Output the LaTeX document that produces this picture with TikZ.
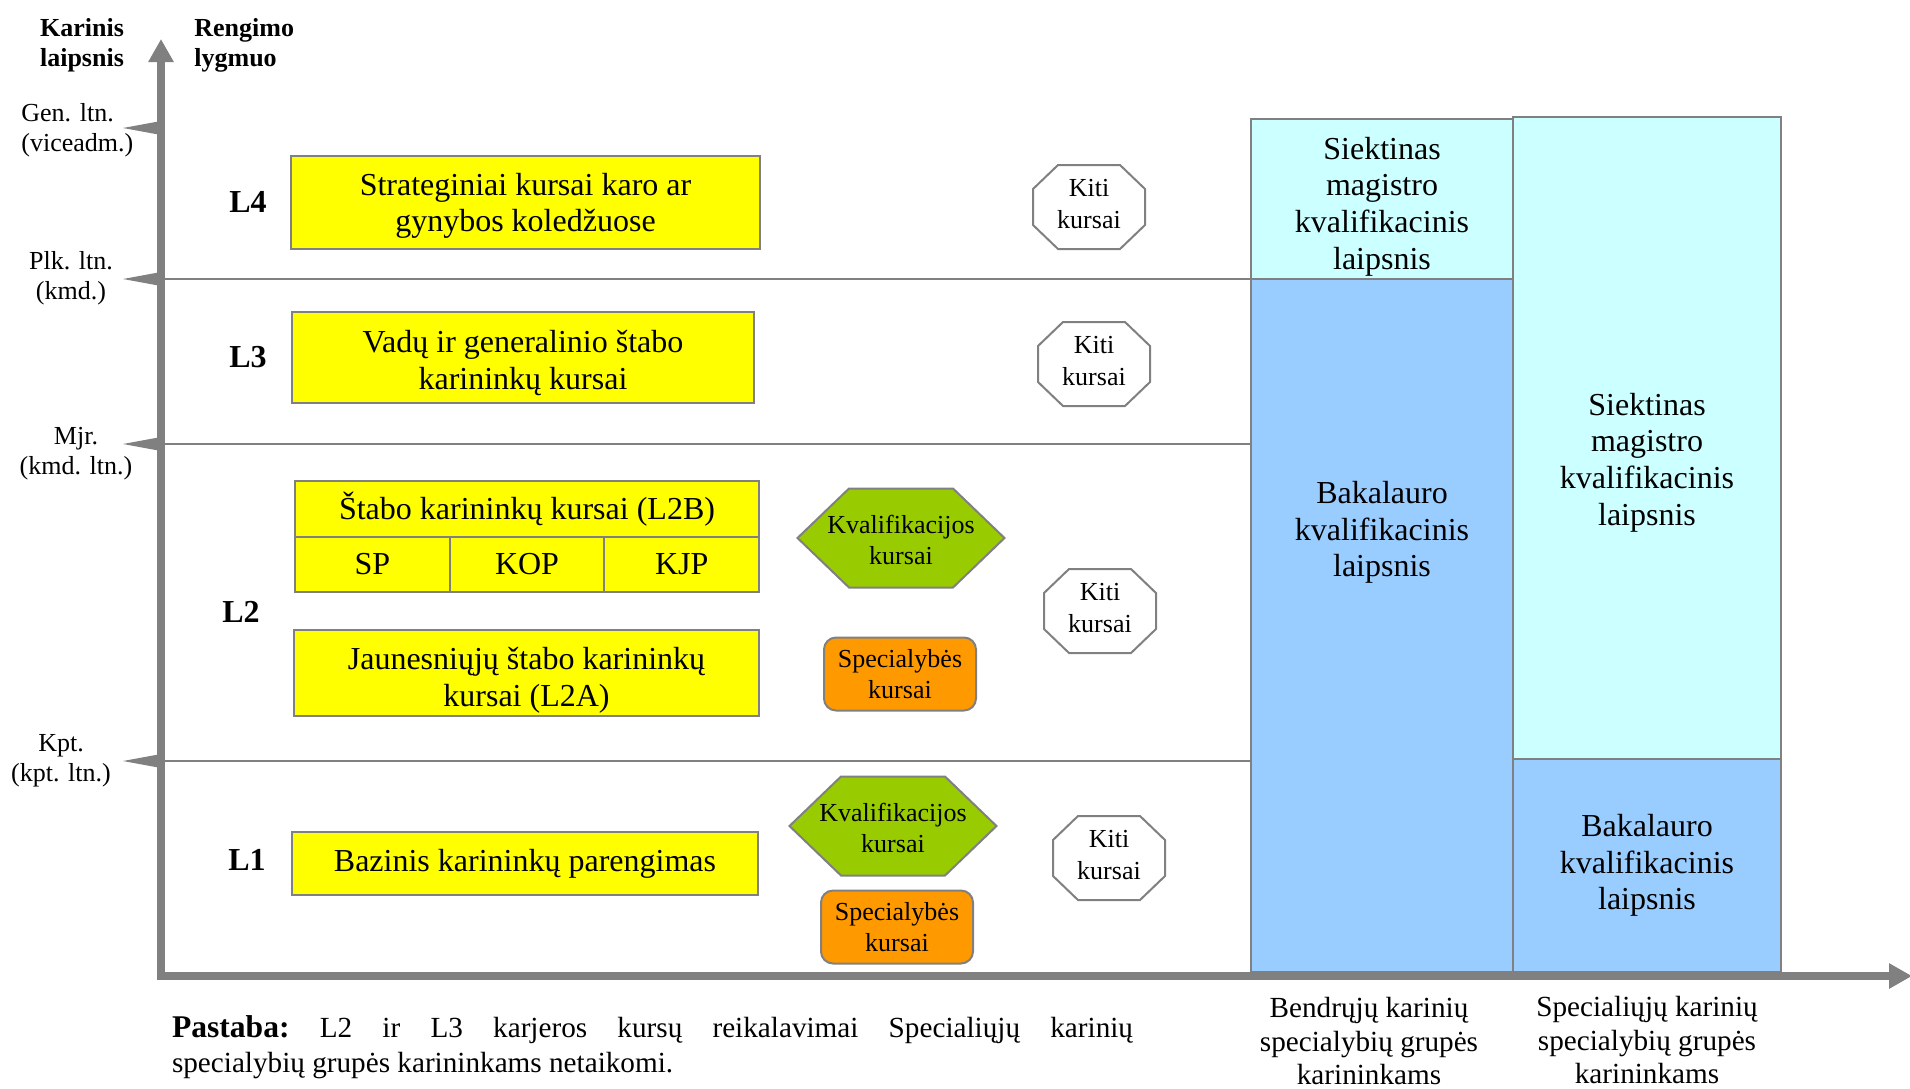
\documentclass[tikz,border=0pt]{standalone}
\usepackage{fontspec}
\setmainfont{Liberation Serif}
\usepackage{tikz}
\usetikzlibrary{arrows.meta}

\definecolor{lvlyellow}{HTML}{FFFF00}
\definecolor{degcyan}{HTML}{CCFFFF}
\definecolor{degblue}{HTML}{99CCFF}
\definecolor{kvgreen}{HTML}{99CC00}
\definecolor{specorange}{HTML}{FF9900}
\definecolor{edgegray}{HTML}{808080}

\begin{document}
\begin{tikzpicture}[x=0.5pt, y=-0.5pt,
    bigtxt/.style={font=\fontsize{16}{18.3}\selectfont},
    smalltxt/.style={font=\fontsize{13}{15.8}\selectfont, align=center},
    ybox/.style={draw=edgegray, line width=1pt, fill=lvlyellow, inner sep=0pt, align=center, bigtxt},
    twoline/.style={text depth=0pt},
    spec/.style={draw=edgegray, line width=1pt, fill=specorange, rounded corners=6pt, minimum width=76pt, minimum height=36.5pt, inner sep=0pt, smalltxt},
    lvl/.style={font=\fontsize{16}{18}\selectfont\bfseries},
    rank/.style={align=center, inner sep=0pt, font=\fontsize{13}{15}\selectfont},
    degbox/.style={draw=edgegray, line width=1pt},
    degtext/.style={align=center, inner sep=0pt, text depth=0pt, bigtxt},
    foot/.style={align=center, inner sep=0pt, font=\fontsize{14.6}{16.8}\selectfont},
    axis/.style={draw=edgegray, line width=4pt, line cap=rect, -{Triangle[length=11.5pt,width=12pt]}},
    grid line/.style={draw=edgegray, line width=1pt},
    hexa/.pic={\filldraw[draw=edgegray, line width=1pt, fill=kvgreen] (-103.5,0) -- (-52,-49.5) -- (52,-49.5) -- (103.5,0) -- (52,49.5) -- (-52,49.5) -- cycle;},
    octa/.pic={\filldraw[draw=edgegray, line width=1pt, fill=white] (-56,-18) -- (-31,-42) -- (31,-42) -- (56,-18) -- (56,18) -- (31,42) -- (-31,42) -- (-56,18) -- cycle;}
]
    \useasboundingbox (0,0) rectangle (1910,1088);

    % levels
    \foreach \y in {279,444,761}
        \draw[grid line] (161,\y) -- (1251,\y);

    % degree columns
    \filldraw[degbox, fill=degcyan] (1251,119) rectangle (1513,279);
    \filldraw[degbox, fill=degblue] (1251,279) rectangle (1513,972);
    \filldraw[degbox, fill=degcyan] (1513,117) rectangle (1781,759);
    \filldraw[degbox, fill=degblue] (1513,759) rectangle (1781,972);
    \node[degtext] (magA) at (1382,203) {Siektinas\\magistro\\kvalifikacinis\\laipsnis};
    \node[degtext] (bakA) at (1382,529) {Bakalauro\\kvalifikacinis\\laipsnis};
    \node[degtext] (magB) at (1647,459) {Siektinas\\magistro\\kvalifikacinis\\laipsnis};
    \node[degtext] (bakB) at (1647,862) {Bakalauro\\kvalifikacinis\\laipsnis};

    % axes
    \coordinate (origin) at (161,976);
    \coordinate (ytip) at (161,39);
    \coordinate (xtip) at (1912,976);
    \draw[axis] (origin) -- (ytip);
    \draw[axis] (origin) -- (xtip);
    \foreach \y in {128,279,444,761}
        \fill[edgegray] (123,\y) -- (161,\y-7) -- (161,\y+7) -- cycle;

    \node[rank, font=\fontsize{13}{15}\selectfont\bfseries] (karinis) at (82,45) {Karinis\\laipsnis};
    \node[rank, font=\fontsize{13}{15}\selectfont\bfseries, align=left, anchor=west] (rengimo) at (194,45) {Rengimo\\lygmuo};
    \node[rank, align=left, anchor=west] (gen) at (21,130) {Gen. ltn.\\(viceadm.)};
    \node[rank] (plk) at (71,278) {Plk. ltn.\\(kmd.)};
    \node[rank] (mjr) at (76,454) {Mjr.\\(kmd. ltn.)};
    \node[rank] (kpt) at (61,761) {Kpt.\\(kpt. ltn.)};

    \node[lvl] (l4) at (248,202) {L4};
    \node[lvl] (l3) at (248,357) {L3};
    \node[lvl] (l2) at (241,612) {L2};
    \node[lvl] (l1) at (247,860) {L1};

    % career courses
    \node[ybox, twoline, minimum width=234.5pt, minimum height=46.5pt] (strat) at (525.5,202.5) {Strateginiai kursai karo ar\\gynybos koledžuose};
    \node[ybox, twoline, text height=32pt, minimum width=231pt, minimum height=45.5pt] (vadu) at (523,357.5) {Vadų ir generalinio štabo\\karininkų kursai};
    \node[ybox, minimum width=232pt, minimum height=28pt] (stabo) at (527,509) {Štabo karininkų kursai (L2B)};
    \foreach \t [count=\i] in {SP,KOP,KJP}
        \node[ybox, minimum width=77.33pt, minimum height=27.5pt] (cell\i) at ({295+154.67*(\i-0.5)},564.5) {\t};
    \node[ybox, twoline, text height=33pt, minimum width=232.5pt, minimum height=43pt] (jaun) at (526.5,673) {Jaunesniųjų štabo karininkų\\kursai (L2A)};
    \node[ybox, minimum width=233pt, minimum height=31.5pt] (bazin) at (525,863.5) {Bazinis karininkų parengimas};

    % other courses
    \pic at (901,538) {hexa};
    \node[smalltxt] (kv2) at (901,540) {Kvalifikacijos\\kursai};
    \pic at (893,826) {hexa};
    \node[smalltxt] (kv1) at (893,828) {Kvalifikacijos\\kursai};
    \node[spec] (spec2) at (900,674) {Specialybės\\kursai};
    \node[spec] (spec1) at (897,927) {Specialybės\\kursai};

    \foreach \x/\y/\n in {1089/207/4, 1094/364/3, 1100/611/2, 1109/858/1} {
        \pic at (\x,\y) {octa};
        \node[smalltxt] (kiti\n) at (\x,\y-3) {Kiti\\kursai};
    }

    % notes under the axis
    \node[foot] (grpA) at (1369,1041) {Bendrųjų karinių\\specialybių grupės\\karininkams};
    \node[foot] (grpB) at (1647,1040) {Specialiųjų karinių\\specialybių grupės\\karininkams};
    \node[inner sep=0pt, text width=480.5pt, align=justify, font=\fontsize{14.6}{17.5}\selectfont\frenchspacing] (note) at (652.5,1047.5)
        {{\fontsize{15.8}{17.5}\selectfont\bfseries Pastaba:} L2 ir L3 karjeros kursų reikalavimai Specialiųjų karinių\linebreak specialybių grupės karininkams netaikomi.};
\end{tikzpicture}
\end{document}
